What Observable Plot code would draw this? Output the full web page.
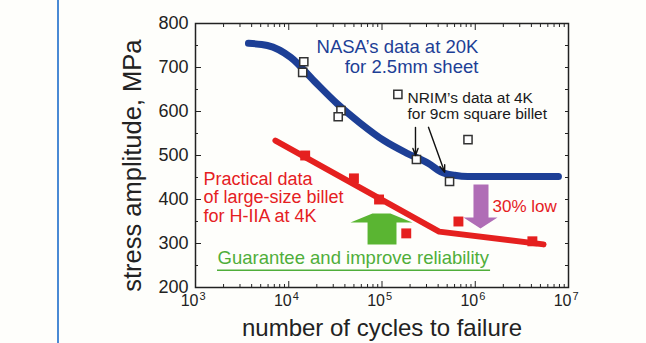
<!DOCTYPE html>
<html><head><meta charset="utf-8">
<script src="https://cdn.jsdelivr.net/npm/d3@7"></script>
<script src="https://cdn.jsdelivr.net/npm/@observablehq/plot@0.6"></script>
<style>
html,body{margin:0;padding:0;background:#fefefb;}
#wrap{position:relative;width:646px;height:343px;overflow:hidden;}
#bar{position:absolute;left:57px;top:0;width:2px;height:343px;background:#4a8ad4;}
#chart{position:absolute;left:0;top:0;}
svg{font-family:"Liberation Sans",Arial,sans-serif;}
</style></head><body><div id="wrap"><div id="bar"></div><div id="chart"></div></div>
<script>
// ---- data ----
const xTickExp = [3, 4, 5, 6, 7];
const yTicks = [200, 300, 400, 500, 600, 700, 800];
const yMinorTicks = [250, 350, 450, 550, 650, 750];
const yRightTicks = [250, 300, 350, 400, 450, 500, 550, 600, 650, 700, 750];

// NASA fitted curve (blue)
const blueN = [3700, 5900, 10500, 18600, 33000, 59000, 105000, 186000, 316000, 427000, 600000, 830000, 7800000];
const blueS = [755, 750, 723, 670, 618, 573, 534, 505, 482, 463, 455, 452, 452];
// open squares (NASA + NRIM data)
const openN = [14500, 14100, 36300, 33900, 148000, 234000, 530000, 836000];
const openS = [713, 689, 602, 588, 639, 491, 441, 536];
// practical data line (red)
const redLineN = [7200, 410000, 5400000];
const redLineS = [534, 327, 298];
// practical data points (red squares)
const redN = [15000, 50000, 93000, 182000, 660000, 4100000];
const redS = [500, 448, 400, 323, 350, 305];

// annotation texts
const nasaText = "NASA\u2019s data at 20K\nfor 2.5mm sheet";
const nrimText = "NRIM\u2019s data at 4K\nfor 9cm square billet";
const practicalText = "Practical data\nof large-size billet\nfor H-IIA at 4K";
const lowText = "30% low";
const guaranteeText = "Guarantee and improve reliability";
const yLabel = "stress amplitude, MPa";
const xLabel = "number of cycles to failure";

// block arrows (outline in data coordinates)
const greenArrowN = [70000, 70000, 45900, 79000, 123000, 212000, 143000, 143000];
const greenArrowS = [298, 348, 348, 368, 368, 348, 348, 298];
const purpleArrowN = [957000, 957000, 748000, 1138000, 1733000, 1387000, 1387000];
const purpleArrowS = [434, 359, 359, 334, 359, 359, 434];

// NRIM pointer arrows
const nrimArrows = [
  {x1: 228600, y1: 564, x2: 228600, y2: 500},
  {x1: 315000, y1: 564, x2: 470000, y2: 462}
];

// ---- build ----
const zip = (a, b) => a.map((v, i) => ({n: v, s: b[i]}));
const xMajor = xTickExp.map(e => Math.pow(10, e));
const xMinor = [];
for (let e = 3; e < 7; e++) for (let m = 2; m <= 9; m++) xMinor.push(m * Math.pow(10, e));

const ink = "#222";
const blue = "#1d3f96";
const red = "#e5201f";
const green = "#4fae3a";

const chart = Plot.plot({
  width: 646, height: 343,
  marginLeft: 195, marginRight: 78, marginTop: 23, marginBottom: 56,
  x: {type: "log", domain: [1e3, 1e7], axis: null},
  y: {domain: [200, 800], axis: null},
  style: {background: "transparent", fontFamily: "'Liberation Sans', Arial, sans-serif", color: ink},
  marks: [
    // block arrows
    Plot.line(zip(greenArrowN, greenArrowS), {x: "n", y: "s", fill: "#5ab532", stroke: "none", curve: "linear-closed"}),
    Plot.line(zip(purpleArrowN, purpleArrowS), {x: "n", y: "s", fill: "#b06db6", stroke: "none", curve: "linear-closed"}),
    // curves
    Plot.line(zip(blueN, blueS), {x: "n", y: "s", stroke: blue, strokeWidth: 7, curve: "monotone-x"}),
    Plot.line(zip(redLineN, redLineS), {x: "n", y: "s", stroke: red, strokeWidth: 6, strokeLinejoin: "round"}),
    Plot.dot(zip(redN, redS), {x: "n", y: "s", symbol: "square", r: 5.6, fill: red, stroke: "none"}),
    Plot.dot(zip(openN, openS), {x: "n", y: "s", symbol: "square", r: 4.6, fill: "white", stroke: "#333", strokeWidth: 1.5}),
    // pointer arrows
    Plot.arrow(nrimArrows, {x1: "x1", y1: "y1", x2: "x2", y2: "y2", stroke: "#111", strokeWidth: 1.4, headLength: 8, headAngle: 40}),
    // annotations
    Plot.text([nasaText], {x: () => 1080000, y: () => 724, text: d => d, textAnchor: "end", fontSize: 18.5, lineHeight: 1.05, fill: blue}),
    Plot.text([nrimText], {x: () => 187500, y: () => 612, text: d => d, textAnchor: "start", fontSize: 15.5, lineHeight: 1.0, fill: "#1a1a1a"}),
    Plot.text([practicalText], {x: () => 1219, y: () => 405, text: d => d, textAnchor: "start", fontSize: 18, lineHeight: 1.03, fill: red}),
    Plot.text([lowText], {x: () => 1530000, y: () => 384, text: d => d, textAnchor: "start", fontSize: 17, fill: red}),
    Plot.text([guaranteeText], {x: () => 1722, y: () => 268, text: d => d, textAnchor: "start", fontSize: 18.5, fill: green}),
    Plot.ruleY([239], {x1: 1722, x2: 1460000, stroke: green, strokeWidth: 1.5}),
    // frame & ticks
    Plot.frame({stroke: ink, strokeWidth: 1.5}),
    Plot.axisY({ticks: yTicks, tickSize: -6, tickPadding: 13, fontSize: 18, label: null, color: ink}),
    Plot.axisY({ticks: yMinorTicks, tickSize: -3, tickFormat: () => "", label: null, color: ink}),
    Plot.axisY({anchor: "right", ticks: yRightTicks, tickSize: -4, tickFormat: () => "", label: null, color: ink}),
    Plot.axisX({anchor: "bottom", ticks: xMajor, tickSize: -6, tickFormat: () => "", label: null, color: ink}),
    Plot.axisX({anchor: "bottom", ticks: xMinor, tickSize: -3, tickFormat: () => "", label: null, color: ink}),
    Plot.axisX({anchor: "top", ticks: xMajor, tickSize: -6, tickFormat: () => "", label: null, color: ink}),
    Plot.axisX({anchor: "top", ticks: xMinor, tickSize: -3, tickFormat: () => "", label: null, color: ink}),
    // x tick labels 10^k
    Plot.text(xTickExp, {x: d => Math.pow(10, d), frameAnchor: "bottom", text: () => "10", textAnchor: "end", dx: 3, dy: 18, fontSize: 16, fill: ink}),
    Plot.text(xTickExp, {x: d => Math.pow(10, d), frameAnchor: "bottom", text: d => String(d), textAnchor: "start", dx: 4, dy: 12, fontSize: 11, fill: ink}),
    // axis titles
    Plot.text([yLabel], {x: () => 211, y: () => 477, text: d => d, rotate: -90, fontSize: 25.5, fill: ink}),
    Plot.text([xLabel], {frameAnchor: "bottom", text: d => d, dy: 48, fontSize: 24, fill: ink})
  ]
});
document.getElementById("chart").appendChild(chart);
</script></body></html>
